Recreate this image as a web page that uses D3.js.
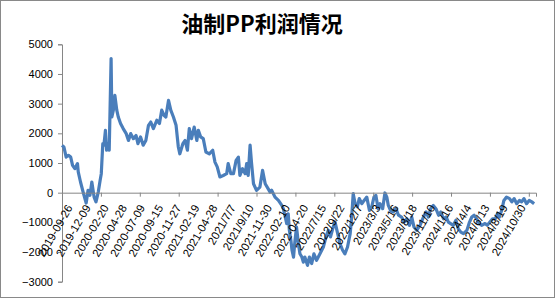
<!DOCTYPE html>
<html>
<head>
<meta charset="utf-8">
<script src="https://cdn.jsdelivr.net/npm/d3@7"></script>
<style>
    body { margin: 0; background: #fff; }
    svg { display: block; }
    .tick-lbl { font-family: "Liberation Sans", Arial, sans-serif; fill: #000; }
</style>
</head>
<body>
<script>
// 油制PP利润 — trading-day index and profit (yuan/ton)
const dayIndex = [
    0, 5, 11, 17, 23, 28, 34, 41, 43, 49, 57, 64, 69, 74, 79, 85, 90, 96, 101, 104,
    108, 111, 115, 118, 123, 125, 130, 132, 136, 140, 145, 149, 155, 162, 170, 176,
    182, 189, 196, 201, 208, 215, 222, 229, 235, 242, 251, 258, 264, 270, 275, 282,
    288, 295, 302, 308, 312, 320, 326, 332, 337, 343, 350, 357, 361, 367, 374, 381,
    390, 399, 405, 411, 418, 427, 436, 440, 447, 454, 461, 467, 471, 478, 485, 489,
    493, 498, 502, 507, 515, 524, 531, 538, 546, 551, 555, 564, 573, 582, 586, 591,
    595, 599, 602, 606, 609, 613, 617, 621, 626, 630, 635, 639, 643, 650, 655, 661,
    667, 674, 683, 692, 699, 705, 711, 718, 723, 729, 736, 743, 749, 756, 763, 767,
    771, 776, 782, 787, 794, 800, 807, 814, 820, 826, 831, 837, 842, 849, 855, 860,
    864, 870, 877, 884, 891, 899, 906, 913, 920, 926, 932, 939, 948, 957, 964, 970,
    976, 983, 990, 997, 1003, 1010, 1017, 1023, 1029, 1036, 1043, 1049, 1056, 1063,
    1072, 1079, 1085, 1091, 1098, 1105, 1111, 1120, 1126, 1133, 1140, 1147, 1153,
    1158, 1164, 1170, 1177, 1185, 1191, 1197, 1204, 1211, 1217, 1223, 1230, 1237,
    1244, 1250
]
const profit = [
    1595, 1540, 1200, 1260, 1200, 920, 810, 980, 700, 360, -30, -350, 80, -90, 360, -150, -310, 20, 420, 640,
    1650, 1600, 2100, 1430, 1650, 1430, 4520, 2550, 2780, 3280, 2780, 2550, 2330, 2160, 1990, 1760,
    1990, 1820, 1930, 1650, 1880, 1600, 1760, 2270, 2380, 2160, 2440, 2330, 2780, 2610, 2550, 3110,
    2780, 2550, 2270, 1540, 1310, 1650, 1760, 1430, 2160, 1820, 2210, 1760, 2100, 1880, 1820, 1370,
    1310, 1430, 1030, 870, 530, 580, 640, 980, 640, 640, 1090, 1200, 580, 810, 640, 980,
    580, 1600, 980, 300, 80, 190, 750, 300, 130, 20, 80, -150, -260, -430, -540, -820,
    -1040, -710, -1270, -1600, -1940, -2170, -1600, -1160, -1720, -2060, -2170, -2340, -2170, -2450, -2170, -2390,
    -2060, -2280, -2060, -1830, -1490, -1270, -1490, -1160, -990, -1330, -1720, -1940, -2060, -1830, -1380, -820,
    -30, -370, -480, -200, -370, -260, -150, -600, -480, -150, -90, -540, -370, -540, -10, -150,
    -430, -600, -650, -540, -760, -820, -990, -880, -1100, -820, -1160, -1270, -1100, -820, -650, -820,
    -540, -430, -540, -760, -650, -880, -820, -990, -1040, -1100, -930, -1210, -1330, -1380,
    -1270, -990, -820, -760, -880, -1040, -1100, -1040, -1100, -990, -880, -880, -710,
    -820, -600, -260, -150, -200, -310, -200, -370, -260, -310, -200, -370, -260,
    -310, -370
]
const totalDays = 1255

// category labels shown every 48 trading days
const dateLabels = [
    '2019-09-26', '2019-12-09', '2020-02-20', '2020-04-28', '2020-07-09', '2020-09-15',
    '2020-11-27', '2021-02-19', '2021-04-28', '2021/7/7', '2021/9/10', '2021-11-30',
    '2022-02-10', '2022-04-20', '2022/7/15', '2022/9/22', '2022/12/7', '2023/3/3',
    '2023/5/16', '2023/8/18', '2023/11/10', '2024/1/16', '2024/4/4', '2024/6/13',
    '2024/8/19', '2024/10/30'
]
const labelStep = 48
const tickStep = 103
const yTicks = [-3000, -2000, -1000, 0, 1000, 2000, 3000, 4000, 5000]

const width = 555,
    height = 298
const margin = { top: 44.3, right: 19, bottom: 16.3, left: 62 }

const svg = d3.select("body").append("svg")
    .attr("width", width)
    .attr("height", height)

// chart area border
svg.append("rect")
    .attr("x", 0.5).attr("y", 0.5)
    .attr("width", width - 1).attr("height", height - 1)
    .attr("fill", "#fff")
    .attr("stroke", "#898989")

svg.append("text")
    .attr("x", 262)
    .attr("y", 32)
    .attr("text-anchor", "middle")
    .attr("font-family", '"Noto Sans CJK SC", sans-serif')
    .attr("font-weight", "bold")
    .attr("font-size", 22)
    .attr("fill", "#000")
    .text("油制PP利润情况")

const x = d3.scaleLinear()
    .domain([0, totalDays])
    .range([margin.left, width - margin.right])
const y = d3.scaleLinear()
    .domain([-3000, 5000])
    .range([height - margin.bottom, margin.top])

// y axis
const yAxis = svg.append("g")
    .attr("transform", `translate(${margin.left},0)`)
    .call(d3.axisLeft(y).tickValues(yTicks).tickSize(4).tickPadding(5).tickFormat(d3.format("d")))
yAxis.select(".domain").attr("stroke", "#868686")
yAxis.selectAll(".tick line").attr("stroke", "#868686")
yAxis.selectAll(".tick text")
    .attr("class", "tick-lbl")
    .attr("font-size", 11)

// line
const line = d3.line()
    .x((d, i) => x(dayIndex[i]))
    .y((d) => y(d))

svg.append("path")
    .datum(profit)
    .attr("d", line)
    .attr("fill", "none")
    .attr("stroke", "#4a7ebb")
    .attr("stroke-width", 3.2)
    .attr("stroke-linejoin", "round")

// x axis sits at zero
const tickDays = d3.range(0, totalDays, tickStep)
const xAxis = svg.append("g")
    .attr("transform", `translate(0,${y(0)})`)
    .call(d3.axisBottom(x).tickValues(tickDays).tickSize(4).tickFormat(""))
xAxis.select(".domain").attr("stroke", "#868686")
xAxis.selectAll(".tick line").attr("stroke", "#868686")

svg.append("g")
    .selectAll("text")
    .data(dateLabels)
    .join("text")
    .attr("class", "tick-lbl")
    .attr("font-size", 11.3)
    .attr("text-anchor", "end")
    .attr("dy", "0.35em")
    .attr("transform", (d, i) => `translate(${x(i * labelStep) + 7.5},${y(0) + 13}) rotate(-60)`)
    .text((d) => d)
</script>
</body>
</html>
